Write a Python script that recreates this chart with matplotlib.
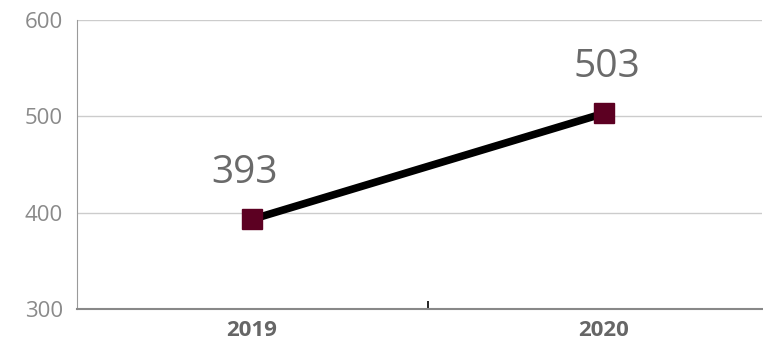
import matplotlib.pyplot as plt

years = ['2019', '2020']
values = [393, 503]

plt.rcParams['font.family'] = ['Open Sans', 'DejaVu Sans']

fig = plt.figure(figsize=(7.63, 3.44), dpi=100)
ax = fig.add_axes([0.1009, 0.1017, 0.8978, 0.8402])

x = list(range(len(years)))
ax.plot(x, values, color='black', linewidth=5.5, marker='s', markersize=15,
        markerfacecolor='#5c0022', markeredgecolor='#5c0022', zorder=3)

# value labels, nudged a little sideways like the original layout
nudges = [-5, 2]
for xi, v, dx in zip(x, values, nudges):
    ax.annotate(str(v), (xi, v), xytext=(dx, 20), textcoords='offset points',
                ha='center', va='bottom', fontsize=28, color='#6a6a6a')

ax.set_ylim(300, 600)
ax.set_yticks([300, 400, 500, 600])
ax.set_xlim(-0.497, 1.45)
ax.set_xticks(x)
ax.set_xticklabels(years, fontsize=16, fontweight='bold', color='#666666')
ax.set_xticks([0.5], minor=True)

ax.tick_params(axis='y', length=0, labelsize=16, labelcolor='#8a8a8a', pad=10)
ax.tick_params(axis='x', which='major', length=0, pad=8)
ax.tick_params(axis='x', which='minor', direction='in', length=6, width=1.2, color='black')

ax.grid(axis='y', color='#cccccc', linewidth=1)
ax.set_axisbelow(True)
for side in ['top', 'right']:
    ax.spines[side].set_visible(False)
ax.spines['left'].set_color('#9a9a9a')
ax.spines['bottom'].set_color('#888888')
ax.spines['bottom'].set_linewidth(1.5)

fig.savefig('out.png', dpi=100)
